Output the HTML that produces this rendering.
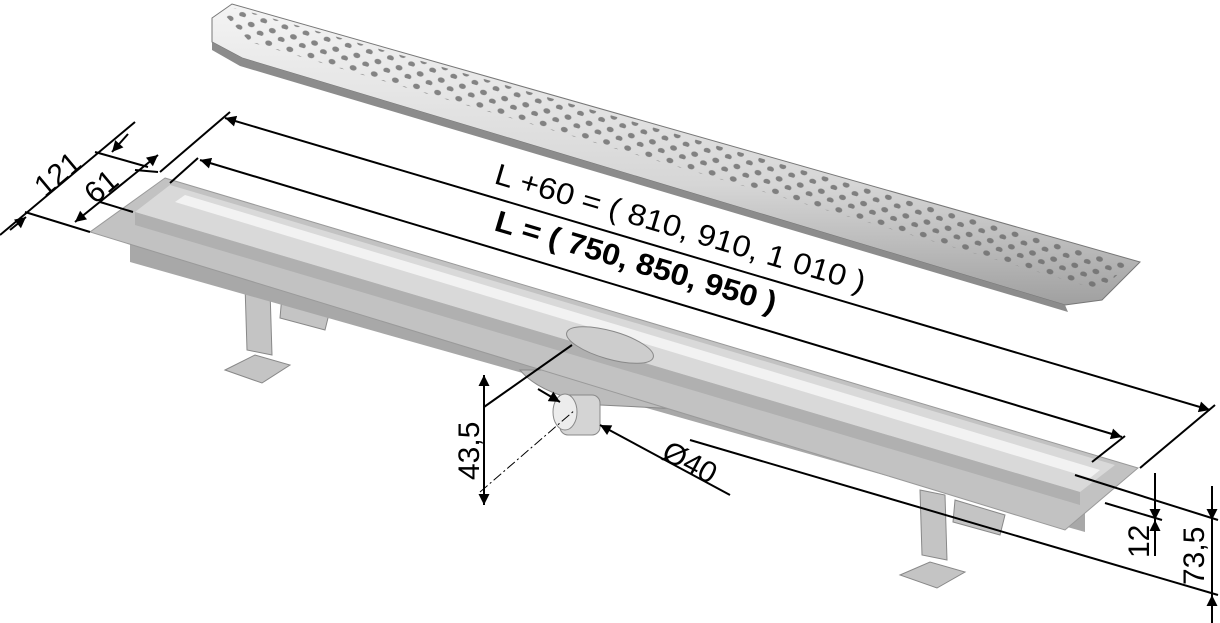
<!DOCTYPE html>
<html><head><meta charset="utf-8"><style>html,body{margin:0;padding:0;background:#fff}svg{display:block}</style></head><body>
<svg width="1220" height="623" viewBox="0 0 1220 623" xmlns="http://www.w3.org/2000/svg" font-family="Liberation Sans, Arial, sans-serif">
<defs>
<marker id="a" viewBox="0 0 10 10" refX="10" refY="5" markerWidth="20" markerHeight="11" markerUnits="userSpaceOnUse" orient="auto-start-reverse"><path d="M0,0 L10,5 L0,10 z" fill="#000"/></marker>
<linearGradient id="g" x1="0" y1="0" x2="0" y2="1"><stop offset="0" stop-color="#f4f4f4"/><stop offset="0.6" stop-color="#d6d6d6"/><stop offset="1" stop-color="#a0a0a0"/></linearGradient>
<pattern id="holes" width="22" height="13" patternUnits="userSpaceOnUse" patternTransform="rotate(16.3)"><ellipse cx="6" cy="5" rx="3.5" ry="2.6" fill="#6a6a6a"/><ellipse cx="17" cy="11" rx="3.5" ry="2.6" fill="#6a6a6a"/></pattern>
</defs>
<g fill="#c4c4c4" stroke="#888" stroke-width="1">
<polygon points="245,285 270,290 272,355 247,350"/>
<polygon points="282,295 330,310 325,330 280,318"/>
<polygon points="225,370 255,355 290,365 262,383"/>
<polygon points="920,490 945,495 947,560 922,555"/>
<polygon points="955,500 1005,515 1000,535 953,522"/>
<polygon points="900,575 930,562 965,572 937,588"/>
</g>
<polygon points="130,240 1085,505 1085,532 130,262" fill="#a8a8a8"/>
<path d="M520,370 Q540,395 600,405 L700,410 Q720,395 700,370 Z" fill="#bcbcbc" stroke="#888"/>
<rect x="560" y="395" width="40" height="40" rx="8" fill="#d4d4d4" stroke="#888"/>
<ellipse cx="565" cy="412" rx="12" ry="18" fill="#ececec" stroke="#888"/>
<polygon points="165,178 1138,468 1065,530 90,232" fill="#c2c2c2" stroke="#9a9a9a"/>
<polygon points="170,185 1115,465 1080,492 135,212" fill="#d9d9d9"/>
<polygon points="185,195 1100,470 1090,478 175,202" fill="#f2f2f2"/>
<polygon points="135,212 1080,492 1080,505 135,225" fill="#b0b0b0"/>
<ellipse cx="610" cy="345" rx="45" ry="14" fill="#cdcdcd" stroke="#888" transform="rotate(16 610 345)"/>
<polygon points="212,18 232,4 1140,262 1102,300 1065,305 242,58 212,42" fill="url(#g)" stroke="#777"/>
<polygon points="222,12 236,8 1130,264 1100,290 250,42" fill="url(#holes)" opacity="0.8"/>
<polygon points="212,42 242,58 1065,305 1068,312 240,66 212,50" fill="#8c8c8c"/>
<g stroke="#000" stroke-width="2" fill="none">
<line x1="225" y1="118" x2="1210" y2="410" marker-start="url(#a)" marker-end="url(#a)"/>
<line x1="230" y1="112" x2="160" y2="172"/>
<line x1="1215" y1="405" x2="1140" y2="468"/>
<line x1="200" y1="160" x2="1122" y2="437" marker-start="url(#a)" marker-end="url(#a)"/>
<line x1="198" y1="158" x2="170" y2="183"/>
<line x1="1125" y1="436" x2="1092" y2="462"/>
<line x1="0" y1="235" x2="135" y2="122"/>
<line x1="10" y1="230" x2="26" y2="217" marker-end="url(#a)"/>
<line x1="128" y1="134" x2="112" y2="152" marker-end="url(#a)"/>
<line x1="25" y1="212" x2="90" y2="232"/>
<line x1="95" y1="152" x2="148" y2="167"/>
<line x1="75" y1="222" x2="158" y2="155" marker-start="url(#a)" marker-end="url(#a)"/>
<line x1="100" y1="202" x2="133" y2="212"/>
<line x1="135" y1="170" x2="158" y2="172"/>
<line x1="484" y1="375" x2="484" y2="505" marker-start="url(#a)" marker-end="url(#a)"/>
<line x1="484" y1="407" x2="572" y2="345"/>
<line x1="480" y1="492" x2="575" y2="410" stroke-width="1" stroke-dasharray="10,3,2,3"/>
<line x1="600" y1="425" x2="730" y2="495" marker-start="url(#a)"/>
<line x1="538" y1="389" x2="560" y2="402" marker-end="url(#a)"/>
<line x1="1075" y1="475" x2="1218" y2="520"/>
<line x1="1105" y1="503" x2="1162" y2="520"/>
<line x1="690" y1="440" x2="1218" y2="595"/>
<line x1="1155" y1="473" x2="1155" y2="520" marker-end="url(#a)"/>
<line x1="1155" y1="520" x2="1155" y2="556" marker-start="url(#a)"/>
<line x1="1212" y1="486" x2="1212" y2="520" marker-end="url(#a)"/>
<line x1="1212" y1="520" x2="1212" y2="595"/>
<line x1="1212" y1="595" x2="1212" y2="623" marker-start="url(#a)"/>
</g>
<g font-size="30" fill="#000">
<text transform="translate(493,183) rotate(16.5)" textLength="385" lengthAdjust="spacingAndGlyphs">L +60 = ( 810, 910, 1 010 )</text>
<text transform="translate(493,230) rotate(16.5)" font-weight="bold" textLength="292" lengthAdjust="spacingAndGlyphs">L = ( 750, 850, 950 )</text>
<text transform="translate(45,198) rotate(-40)">121</text>
<text transform="translate(95,205) rotate(-40)">61</text>
<text transform="translate(479,480) rotate(-90)">43,5</text>
<text transform="translate(660,458) rotate(28)">Ø40</text>
<text transform="translate(1149,558) rotate(-90)">12</text>
<text transform="translate(1204,585) rotate(-90)">73,5</text>
</g>
</svg>
</body></html>
